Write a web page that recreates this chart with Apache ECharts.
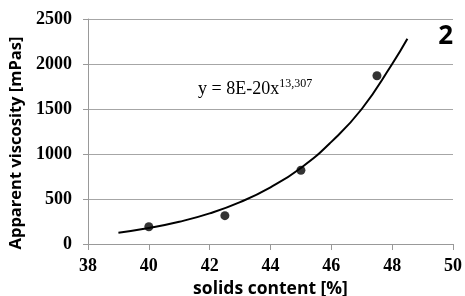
<!DOCTYPE html>
<html>
<head>
<meta charset="utf-8">
<script src="https://cdn.jsdelivr.net/npm/echarts@6/dist/echarts.min.js"></script>
<style>
html, body { margin: 0; padding: 0; background: #fff; }
#chart { width: 465px; height: 296px; }
</style>
</head>
<body>
<div id="chart"></div>
<script>
// measured points: solids content [%] -> apparent viscosity [mPas]
var solids = [40, 42.5, 45, 47.5];
var viscosity = [192, 315, 820, 1870];
// power trendline
var trendX = [39, 40, 41, 42, 43, 44, 45, 46, 47, 48, 48.5];
var trendY = [126, 178, 247, 340, 465, 630, 845, 1135, 1500, 2000, 2280];
var equation = 'y = 8E-20x';
var exponent = '13,307';

var myChart = echarts.init(document.getElementById('chart'));

var labelFont = {
    fontFamily: 'Liberation Serif',
    fontWeight: 'bold',
    fontSize: 18,
    color: '#000'
};

myChart.setOption({
    animation: false,
    grid: { left: 88, right: 12, top: 19, bottom: 52, containLabel: false, outerBoundsMode: 'none' },
    xAxis: {
        type: 'value',
        min: 38,
        max: 50,
        interval: 2,
        name: 'solids content [%]',
        nameLocation: 'middle',
        nameGap: 31,
        nameTextStyle: { fontFamily: 'Open Sans', fontWeight: 'bold', fontSize: 17.5, color: '#000' },
        axisLine: { lineStyle: { color: '#999', width: 1 } },
        axisTick: { show: true, length: 6, lineStyle: { color: '#999' } },
        splitLine: { show: false },
        axisLabel: Object.assign({ margin: 13 }, labelFont)
    },
    yAxis: {
        type: 'value',
        min: 0,
        max: 2500,
        interval: 500,
        name: 'Apparent viscosity [mPas]',
        nameLocation: 'middle',
        nameGap: 61,
        nameTextStyle: { fontFamily: 'Open Sans', fontWeight: 'bold', fontSize: 16.5, color: '#000', padding: [0, 23, 0, 0] },
        axisLine: { show: true, lineStyle: { color: '#999', width: 1 } },
        axisTick: { show: true, length: 5, lineStyle: { color: '#999' } },
        splitLine: { lineStyle: { color: '#a6a6a6', width: 1 } },
        axisLabel: Object.assign({ margin: 16, formatter: function (v) { return String(v); } }, labelFont)
    },
    graphic: [
        { type: 'text', right: 12, top: 24, style: { text: '2', font: 'bold 26px "Open Sans"', fill: '#000' } },
        {
            type: 'text',
            left: 198,
            top: 78,
            style: {
                text: '{m|' + equation + '}{s|' + exponent + '}',
                fill: '#000',
                rich: {
                    m: { fontFamily: 'Liberation Serif', fontSize: 18, lineHeight: 20, verticalAlign: 'bottom' },
                    s: { fontFamily: 'Liberation Serif', fontSize: 12, lineHeight: 20, verticalAlign: 'top' }
                }
            }
        }
    ],
    series: [
        {
            name: 'trend',
            type: 'line',
            smooth: true,
            showSymbol: false,
            data: trendX.map(function (x, i) { return [x, trendY[i]]; }),
            lineStyle: { color: '#000', width: 2 }
        },
        {
            name: 'measured',
            type: 'scatter',
            symbolSize: 9,
            data: solids.map(function (x, i) { return [x, viscosity[i]]; }),
            itemStyle: { color: '#000' }
        }
    ]
});
</script>
</body>
</html>
